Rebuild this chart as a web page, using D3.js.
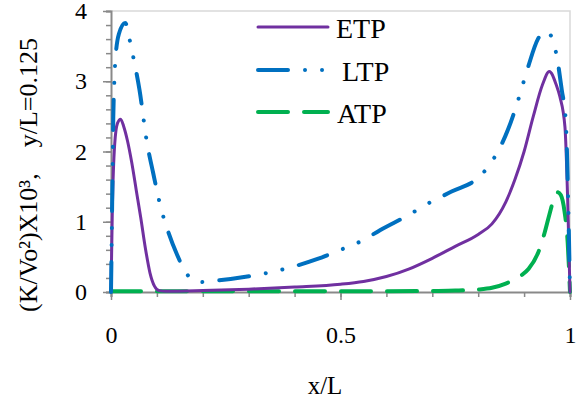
<!DOCTYPE html>
<html><head><meta charset="utf-8">
<script src="https://cdn.jsdelivr.net/npm/d3@7"></script>
<style>
html,body{margin:0;padding:0;background:#fff;}
svg text{font-family:"Liberation Serif","Times New Roman",serif !important;}
</style></head>
<body><svg id="c" width="582" height="401"></svg>
<script>
// ---- data ----
const seriesNames = ["ETP", "LTP", "ATP"];
const etpX = [0, 0.003, 0.008, 0.014, 0.021, 0.028, 0.036, 0.045, 0.055, 0.065, 0.075, 0.085, 0.095, 0.105, 0.12, 0.2, 0.3, 0.4, 0.5, 0.55, 0.6, 0.65, 0.7, 0.75, 0.8, 0.83, 0.86, 0.88, 0.9, 0.92, 0.94, 0.955, 0.97, 0.978, 0.989, 0.995, 1.0];
const etpY = [0, 1.2, 2.1, 2.4, 2.46, 2.35, 2.15, 1.85, 1.45, 1.05, 0.62, 0.27, 0.08, 0.02, 0.01, 0.02, 0.04, 0.07, 0.11, 0.15, 0.22, 0.33, 0.48, 0.65, 0.82, 0.97, 1.28, 1.6, 2.0, 2.5, 2.95, 3.14, 2.95, 2.78, 2.35, 1.3, 0];
const ltpX = [0, 0.003, 0.005, 0.007, 0.009, 0.017, 0.031, 0.041, 0.049, 0.062, 0.078, 0.092, 0.109, 0.125, 0.144, 0.161, 0.189, 0.227, 0.297, 0.373, 0.45, 0.5, 0.55, 0.586, 0.641, 0.708, 0.742, 0.804, 0.828, 0.866, 0.887, 0.909, 0.93, 0.948, 0.96, 0.971, 0.982, 0.991, 0.996, 1.0];
const ltpY = [0, 1.5, 2.5, 2.95, 3.25, 3.67, 3.83, 3.58, 3.33, 2.88, 2.14, 1.69, 1.19, 0.85, 0.53, 0.30, 0.14, 0.16, 0.22, 0.32, 0.47, 0.6, 0.74, 0.88, 1.07, 1.32, 1.43, 1.65, 1.84, 2.33, 2.73, 3.21, 3.6, 3.71, 3.63, 3.36, 2.88, 2.42, 1.3, 0];
const atpX = [0, 0.1, 0.2, 0.3, 0.4, 0.5, 0.6, 0.7, 0.75, 0.8, 0.83, 0.86, 0.89, 0.91, 0.93, 0.945, 0.955, 0.965, 0.973, 0.98, 0.988, 0.995, 1.0];
const atpY = [0.01, 0.01, 0.01, 0.01, 0.01, 0.01, 0.01, 0.015, 0.02, 0.035, 0.06, 0.12, 0.22, 0.33, 0.55, 0.85, 1.1, 1.33, 1.42, 1.38, 1.15, 0.7, 0];
const xTickLabels = [0, 0.5, 1];
const yTickLabels = [0, 1, 2, 3, 4];
const xTitle = "x/L";
const yTitle = "(K/Vo²)X10³,    y/L=0.125";

// ---- layout ----
const FONT = "Liberation Serif, Times New Roman, serif";
const L = 111, R = 570, T = 11, B = 292;
const svg = d3.select("#c");
const x = d3.scaleLinear().domain([0, 1]).range([L, R]);
const y = d3.scaleLinear().domain([0, 4]).range([B, T]);
const axisCol = "#898989";

// frame (top/right)
svg.append("path").attr("d", `M${L},${T}H${R}V${B}`).attr("fill", "none")
  .attr("stroke", "#d9d9d9").attr("stroke-width", 1.5);

// y axis
const yMinor = d3.range(0, 4.0001, 0.2).map(v => +v.toFixed(2));
const gy = svg.append("g").attr("transform", `translate(${L},0)`)
  .call(d3.axisLeft(y).tickValues(yMinor).tickSize(5).tickFormat(""));
gy.selectAll("line,path").attr("stroke", axisCol).attr("stroke-width", 1.5);
gy.select(".domain").attr("stroke-width", 2);
const gy2 = svg.append("g").attr("transform", `translate(${L},0)`)
  .attr("font-family", FONT)
  .call(d3.axisLeft(y).tickValues(yTickLabels).tickSize(8).tickPadding(16).tickFormat(d3.format("d")));
gy2.attr("font-family", FONT).attr("font-size", 24);
gy2.select(".domain").remove();
gy2.selectAll("line").attr("stroke", axisCol).attr("stroke-width", 1.5);
gy2.selectAll("text").attr("fill", "#000");

// x axis
const xMinor = d3.range(0, 1.0001, 0.1).map(v => +v.toFixed(2));
const gx = svg.append("g").attr("transform", `translate(0,${B})`)
  .call(d3.axisBottom(x).tickValues(xMinor).tickSize(5).tickFormat(""));
gx.selectAll("line,path").attr("stroke", axisCol).attr("stroke-width", 1.5);
gx.select(".domain").attr("stroke-width", 2);
const gx2 = svg.append("g").attr("transform", `translate(0,${B})`)
  .call(d3.axisBottom(x).tickValues(xTickLabels).tickSize(8).tickPadding(26).tickFormat(d3.format("")));
gx2.attr("font-family", FONT).attr("font-size", 24);
gx2.select(".domain").remove();
gx2.selectAll("line").attr("stroke", axisCol).attr("stroke-width", 1.5);
gx2.selectAll("text").attr("fill", "#000");

// titles
svg.append("text").attr("x", 325).attr("y", 394).attr("text-anchor", "middle")
  .attr("font-size", 25).text(xTitle);
svg.append("text").attr("transform", "translate(37,175) rotate(-90)")
  .attr("text-anchor", "middle").attr("font-size", 26)
  .style("white-space", "pre").text(yTitle);

// series
const series = [
  {name: seriesNames[0], xs: etpX, ys: etpY, color: "#7030A0", w: 3, dash: null},
  {name: seriesNames[1], xs: ltpX, ys: ltpY, color: "#0070C0", w: 4, dash: "30,17,0.01,17,0.01,17"},
  {name: seriesNames[2], xs: atpX, ys: atpY, color: "#00B050", w: 4, dash: "30,16"}
];
const line = d3.line().x(d => x(d[0])).y(d => y(d[1])).curve(d3.curveMonotoneX);
const drawOrder = [2, 0, 1];
drawOrder.forEach(i => {
  const s = series[i];
  const pts = s.xs.map((v, k) => [v, s.ys[k]]);
  svg.append("path").datum(pts).attr("d", line).attr("fill", "none")
    .attr("stroke", s.color).attr("stroke-width", s.w)
    .attr("stroke-linecap", "round").attr("stroke-linejoin", "round")
    .attr("stroke-dasharray", s.dash);
});

// legend
const legY = [27, 70, 112];
const legTextX = [336, 342, 337];
series.forEach((s, i) => {
  svg.append("line").attr("x1", 258).attr("x2", 328).attr("y1", legY[i]).attr("y2", legY[i])
    .attr("stroke", s.color).attr("stroke-width", s.w).attr("stroke-linecap", "round")
    .attr("stroke-dasharray", s.dash);
  svg.append("text").attr("x", legTextX[i]).attr("y", legY[i] + 10.5)
    .attr("font-size", 28).text(s.name);
});

svg.selectAll("text").attr("font-family", FONT).style("font-family", FONT);
</script></body></html>
